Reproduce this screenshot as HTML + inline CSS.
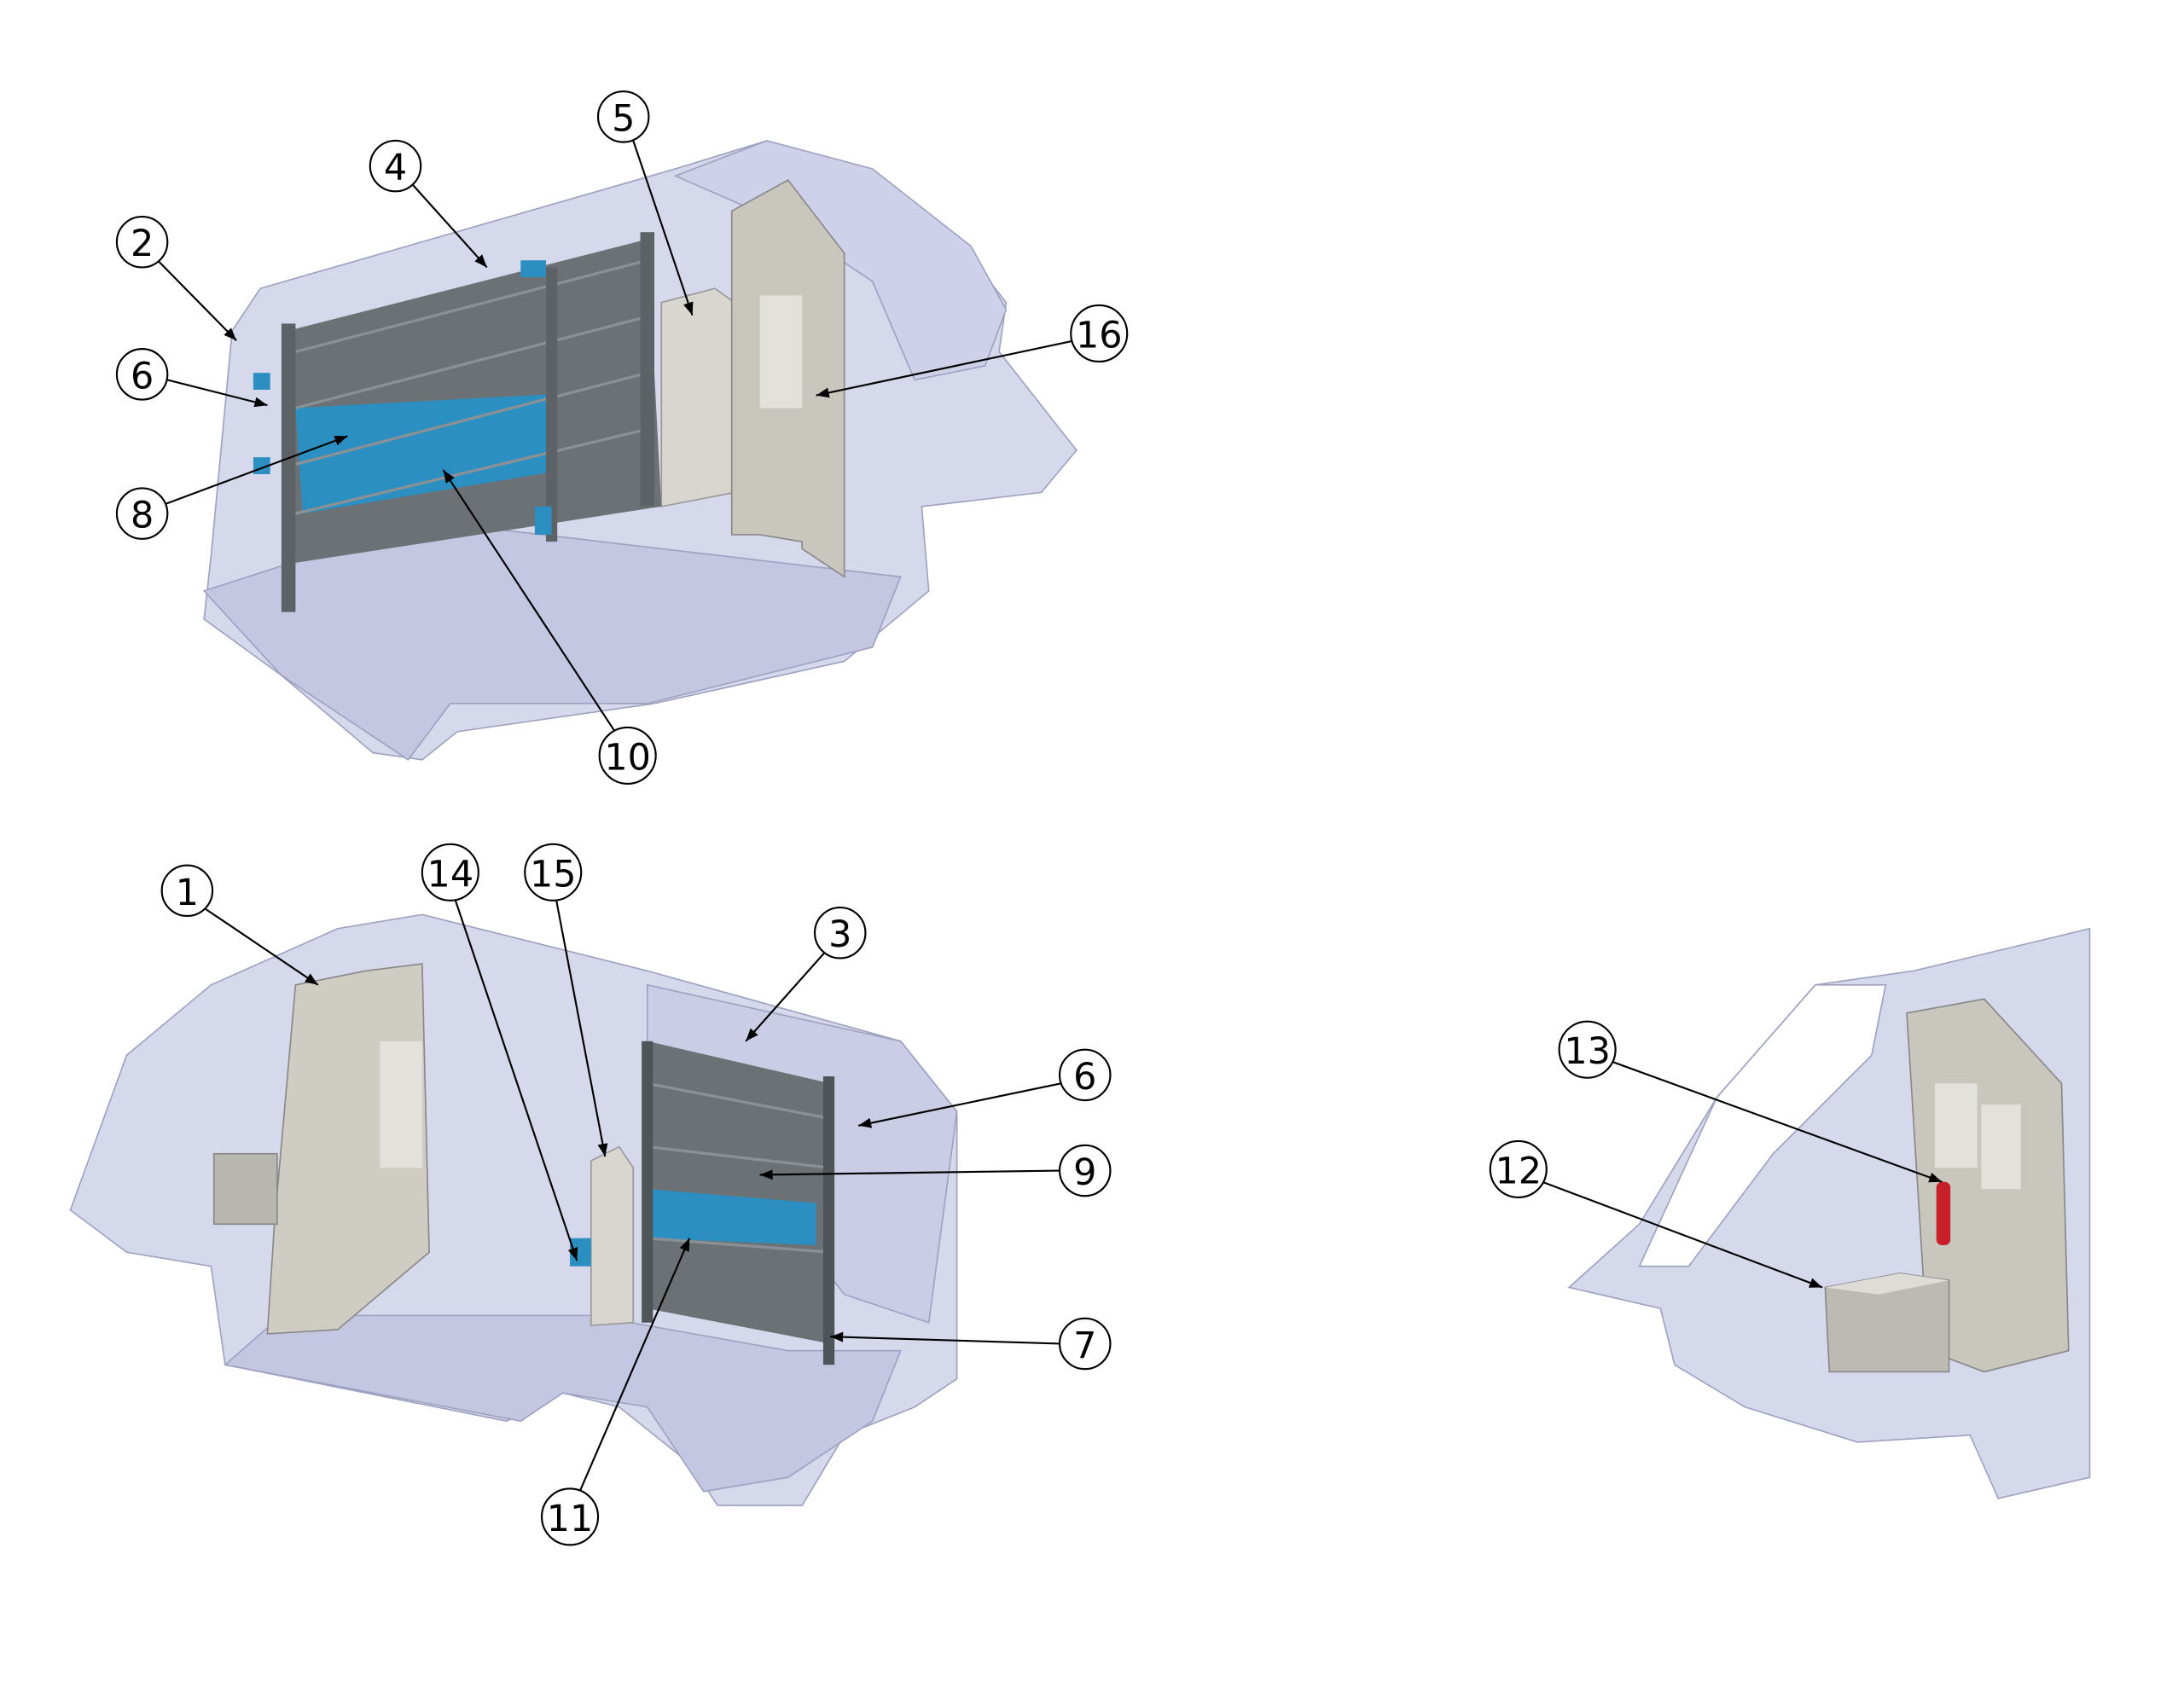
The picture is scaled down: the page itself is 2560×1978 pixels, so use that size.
<!DOCTYPE html>
<html><head><meta charset="utf-8"><style>
html,body{margin:0;padding:0;background:#fff;}
svg{display:block;}
text{font-family:"DejaVu Sans","Liberation Sans",sans-serif;}
</style></head><body>
<svg width="2560" height="1978" viewBox="0 0 1552 1199" preserveAspectRatio="none" xmlns="http://www.w3.org/2000/svg">
<defs>
<marker id="a" viewBox="0 0 10 10" refX="10" refY="5" markerWidth="7" markerHeight="7" orient="auto"><path d="M0,1 L10,5 L0,9 z" fill="#000"/></marker>
</defs>
<!-- ===== Top van ===== -->
<g stroke="#9ea2c0" stroke-width="1">
<path d="M150,395 L165,235 L185,205 L480,120 L545,100 L600,125 L680,170 L715,215 L710,250 L765,320 L740,350 L655,360 L660,420 L600,470 L465,500 L325,520 L300,540 L265,535 L200,480 L145,440 Z" fill="#d6d8ec"/>
<path d="M145,420 L300,370 L640,410 L620,460 L460,500 L320,500 L290,540 L200,480 Z" fill="#c4c7e2"/>
<path d="M480,125 L545,100 L620,120 L690,175 L715,220 L700,260 L650,270 L620,200 L560,160 Z" fill="#cfd1ea"/>
</g>
<!-- cabinet 5 -->
<path d="M470,215 L508,205 L522,215 L522,350 L470,360 Z" fill="#d8d6cf" stroke="#999" stroke-width="1"/>
<!-- partition panel -->
<path d="M520,150 L560,128 L600,180 L600,410 L570,390 L570,385 L540,380 L520,380 Z" fill="#c9c6bd" stroke="#888" stroke-width="1"/>
<rect x="540" y="210" width="30" height="80" fill="#e3e1dc"/>
<!-- shelves top -->
<g>
<path d="M205,235 L460,170 L470,360 L210,400 Z" fill="#6c7175"/>
<path d="M210,290 L395,280 L395,335 L215,365 Z" fill="#2b8fc2"/>
<g stroke="#8a9094" stroke-width="2">
<line x1="210" y1="250" x2="460" y2="185"/><line x1="210" y1="290" x2="460" y2="225"/>
<line x1="210" y1="330" x2="460" y2="265"/><line x1="210" y1="365" x2="460" y2="305"/>
</g>
<rect x="200" y="230" width="10" height="205" fill="#5d6266"/>
<rect x="388" y="190" width="8" height="195" fill="#5d6266"/>
<rect x="455" y="165" width="10" height="195" fill="#5d6266"/>
<g fill="#2b8fc2"><rect x="370" y="185" width="18" height="12"/><rect x="380" y="360" width="12" height="20"/><rect x="180" y="265" width="12" height="12"/><rect x="180" y="325" width="12" height="12"/></g>
</g>
<!-- ===== Bottom van ===== -->
<g stroke="#9ea2c0" stroke-width="1">
<path d="M50,860 L90,750 L150,700 L240,660 L300,650 L460,690 L640,740 L680,790 L680,980 L650,1000 L600,1020 L570,1070 L510,1070 L490,1040 L440,1000 L400,990 L380,1000 L360,1010 L160,970 L150,900 L90,890 Z" fill="#d6d8ec"/>
<path d="M160,970 L200,935 L420,935 L560,960 L640,960 L620,1010 L560,1050 L500,1060 L460,1000 L400,990 L370,1010 Z" fill="#c4c7e2"/>
<path d="M460,700 L640,740 L680,790 L660,940 L600,920 L460,740 Z" fill="#cbcde6"/>
</g>
<!-- partition bottom -->
<path d="M195,870 L210,700 L260,690 L300,685 L305,890 L240,945 L190,948 Z" fill="#cfccc3" stroke="#888" stroke-width="1"/>
<rect x="270" y="740" width="30" height="90" fill="#e3e1dc"/>
<rect x="152" y="820" width="45" height="50" fill="#b8b6b0" stroke="#888"/>
<path d="M420,825 L440,815 L450,830 L450,940 L420,942 Z" fill="#d8d6cf" stroke="#999"/>
<!-- shelves bottom -->
<path d="M460,740 L590,770 L590,955 L460,930 Z" fill="#6c7175"/>
<path d="M460,845 L580,855 L580,885 L460,880 Z" fill="#2b8fc2"/>
<g stroke="#8a9094" stroke-width="2"><line x1="460" y1="770" x2="590" y2="795"/><line x1="460" y1="815" x2="590" y2="830"/><line x1="460" y1="880" x2="590" y2="890"/></g>
<rect x="456" y="740" width="8" height="200" fill="#4f5458"/><rect x="585" y="765" width="8" height="205" fill="#4f5458"/>
<rect x="405" y="880" width="15" height="20" fill="#2b8fc2"/>
<!-- ===== Right view ===== -->
<g stroke="#9ea2c0" stroke-width="1">
<path d="M1115,915 L1165,870 L1220,780 L1290,700 L1360,690 L1485,660 L1485,1050 L1420,1065 L1400,1020 L1320,1025 L1240,1000 L1190,970 L1180,930 Z" fill="#d6d8ec"/>
<path d="M1220,780 L1290,700 L1340,700 L1330,750 L1260,820 L1200,900 L1165,900 Z" fill="#fff"/>
</g>
<path d="M1355,720 L1410,710 L1465,770 L1470,960 L1410,975 L1370,960 Z" fill="#c9c6bd" stroke="#888"/>
<rect x="1375" y="770" width="30" height="60" fill="#e3e1dc"/>
<rect x="1408" y="785" width="28" height="60" fill="#e3e1dc"/>
<rect x="1376" y="840" width="10" height="45" rx="4" fill="#c8202a"/>
<path d="M1297,915 L1350,905 L1385,910 L1385,975 L1300,975 Z" fill="#bcbab3" stroke="#888"/>
<path d="M1297,915 L1350,905 L1385,910 L1335,920 Z" fill="#dedcd6"/>
<!-- ===== Balloons ===== -->
<g fill="none" stroke="#000" stroke-width="1.3">
<line x1="450" y1="100" x2="492" y2="224" marker-end="url(#a)"/>
<line x1="293" y1="131" x2="346" y2="190" marker-end="url(#a)"/>
<line x1="113" y1="186" x2="168" y2="242" marker-end="url(#a)"/>
<line x1="764" y1="242" x2="580" y2="281" marker-end="url(#a)"/>
<line x1="119" y1="270" x2="190" y2="288" marker-end="url(#a)"/>
<line x1="118" y1="358" x2="247" y2="310" marker-end="url(#a)"/>
<line x1="437" y1="520" x2="315" y2="334" marker-end="url(#a)"/>
<line x1="146" y1="646" x2="226" y2="700" marker-end="url(#a)"/>
<line x1="323" y1="638" x2="410" y2="896" marker-end="url(#a)"/>
<line x1="395" y1="638" x2="430" y2="822" marker-end="url(#a)"/>
<line x1="586" y1="677" x2="530" y2="740" marker-end="url(#a)"/>
<line x1="754" y1="770" x2="610" y2="800" marker-end="url(#a)"/>
<line x1="753" y1="832" x2="540" y2="835" marker-end="url(#a)"/>
<line x1="412" y1="1060" x2="490" y2="880" marker-end="url(#a)"/>
<line x1="753" y1="955" x2="590" y2="950" marker-end="url(#a)"/>
<line x1="1144" y1="754" x2="1380" y2="840" marker-end="url(#a)"/>
<line x1="1096" y1="840" x2="1295" y2="915" marker-end="url(#a)"/>
</g>
<g fill="#fff" stroke="#000" stroke-width="1.3">
<circle cx="443" cy="83" r="18"/><circle cx="281" cy="118" r="18"/><circle cx="101" cy="172" r="18"/>
<circle cx="781" cy="237" r="20"/><circle cx="101" cy="266" r="18"/><circle cx="101" cy="365" r="18"/>
<circle cx="446" cy="537" r="20"/><circle cx="133" cy="633" r="18"/><circle cx="320" cy="620" r="20"/>
<circle cx="393" cy="620" r="20"/><circle cx="597" cy="663" r="18"/><circle cx="771" cy="764" r="18"/>
<circle cx="771" cy="832" r="18"/><circle cx="405" cy="1078" r="20"/><circle cx="771" cy="955" r="18"/>
<circle cx="1128" cy="746" r="20"/><circle cx="1079" cy="831" r="20"/>
</g>
<g font-size="26" text-anchor="middle" fill="#000">
<text x="443" y="93">5</text><text x="281" y="128">4</text><text x="101" y="182">2</text>
<text x="781" y="247">16</text><text x="101" y="276">6</text><text x="101" y="375">8</text>
<text x="446" y="547">10</text><text x="133" y="643">1</text><text x="320" y="630">14</text>
<text x="393" y="630">15</text><text x="597" y="673">3</text><text x="771" y="774">6</text>
<text x="771" y="842">9</text><text x="405" y="1088">11</text><text x="771" y="965">7</text>
<text x="1128" y="756">13</text><text x="1079" y="841">12</text>
</g>
</svg>
</body></html>
